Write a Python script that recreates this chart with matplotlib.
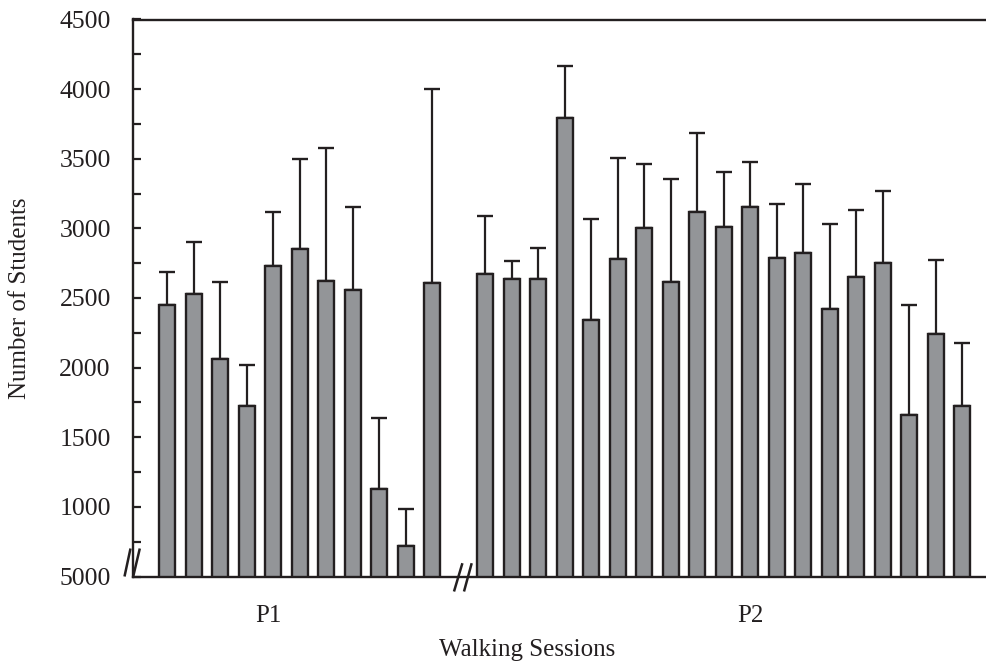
import numpy as np
import matplotlib
matplotlib.use("Agg")
import matplotlib.pyplot as plt
from matplotlib.path import Path
from matplotlib import transforms

# ---- data ----
groups = ["P1", "P2"]
p1_means = [2450, 2530, 2060, 1725, 2730, 2850, 2625, 2555, 1125, 720, 2605]
p1_upper = [2690, 2905, 2615, 2020, 3120, 3495, 3580, 3150, 1635, 985, 4000]
p2_means = [2670, 2635, 2635, 3795, 2345, 2780, 3005, 2612, 3115, 3008,
            3155, 2785, 2820, 2420, 2650, 2753, 1663, 2242, 1727]
p2_upper = [3090, 2768, 2862, 4165, 3068, 3505, 3465, 3355, 3683, 3405,
            3480, 3175, 3320, 3033, 3133, 3266, 2450, 2770, 2180]
y_ticks = [500, 1000, 1500, 2000, 2500, 3000, 3500, 4000, 4500]
y_tick_labels = ["5000", "1000", "1500", "2000", "2500", "3000", "3500", "4000", "4500"]
x_label = "Walking Sessions"
y_label = "Number of Students"

# ---- style ----
FACE = "#939598"
EDGE = "#231f20"
FONT = "Liberation Serif"
FS = 18
plt.rcParams["font.family"] = [FONT, "DejaVu Serif"]

fig = plt.figure(figsize=(9.87, 6.67), dpi=100)
ax = fig.add_axes([133 / 987, 90.5 / 667, 1 - 133 / 987, 557 / 667])

pos1 = np.arange(len(p1_means))
pos2 = len(p1_means) + 1 + np.arange(len(p2_means))
pos = np.concatenate([pos1, pos2])
means = np.array(p1_means + p2_means, dtype=float)
upper = np.array(p1_upper + p2_upper, dtype=float)
err = upper - means

ymin = 500
ax.bar(pos, means - ymin, bottom=ymin, width=0.6, color=FACE,
       edgecolor=EDGE, linewidth=1.7, zorder=3)
ax.errorbar(pos, means, yerr=[np.zeros_like(err), err], fmt="none",
            ecolor=EDGE, elinewidth=1.6, capsize=6, capthick=1.7, zorder=2)

ax.set_xlim(-1.294, 30.93)
ax.set_ylim(ymin, 4500)

ax.set_yticks(y_ticks)
ax.set_yticklabels(y_tick_labels, fontsize=FS + 0.5, fontfamily=FONT)
ax.set_yticks(np.arange(750, 4500, 500), minor=True)
ax.tick_params(axis="y", which="both", direction="in", length=6, width=1.6,
               color=EDGE, pad=16, labelcolor="#231f20")
ax.set_xticks([])

for s in ["left", "top", "bottom"]:
    ax.spines[s].set_linewidth(1.7)
    ax.spines[s].set_color(EDGE)
ax.spines["right"].set_visible(False)

ax.set_ylabel(y_label, fontsize=FS, fontfamily=FONT, color="#231f20")
ax.yaxis.set_label_coords(-0.119, 0.5)

# group labels
blend = transforms.blended_transform_factory(ax.transData, ax.transAxes)
ax.text(3.8, -0.071, groups[0], transform=blend, ha="center", va="center",
        fontsize=FS, fontfamily=FONT, color="#231f20")
ax.text(22.0, -0.071, groups[1], transform=blend, ha="center", va="center",
        fontsize=FS, fontfamily=FONT, color="#231f20")
fig.text(527 / 987, 1 - 650 / 667, x_label, ha="center", va="center",
         fontsize=FS, fontfamily=FONT, color="#231f20")

# axis break marks "//" (custom line markers, one stroke each)
def stroke_marker(a, b):
    verts = np.array([a, b], dtype=float)
    m = np.max(np.abs(verts))
    return Path(verts, [Path.MOVETO, Path.LINETO]), 2 * m * 0.72

def draw_break(x, strokes):
    for a, b in strokes:
        p, ms = stroke_marker(a, b)
        ax.plot([x], [ymin], marker=p, markersize=ms, markeredgewidth=1.8,
                markeredgecolor=EDGE, markerfacecolor="none", fillstyle="none",
                linestyle="none", clip_on=False, zorder=5)

draw_break(ax.get_xlim()[0], [((-9, 1), (-3, 29)), ((-0.3, 1), (6.3, 29))])
mid_x = (pos1[-1] + pos2[0]) / 2
draw_break(mid_x, [((-5.5, -14), (2.9, 14.3)), ((4.5, -14), (12.2, 14.3))])

fig.savefig("out.png", dpi=100)
